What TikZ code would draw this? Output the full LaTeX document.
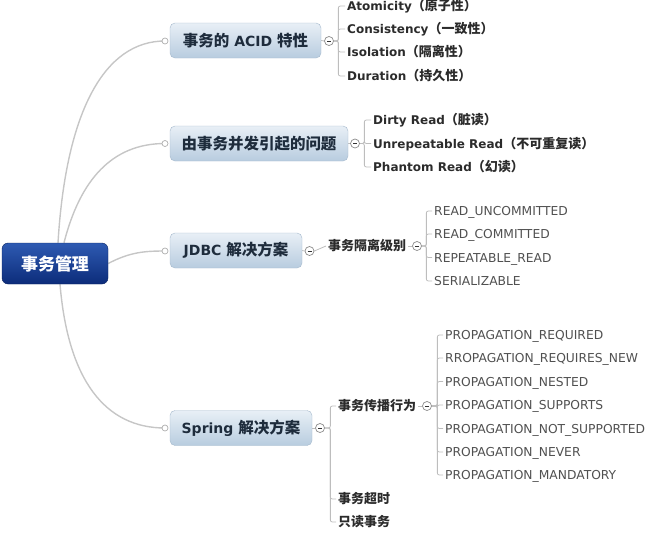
\documentclass[tikz,border=0pt]{standalone}
\usepackage{fontspec}
\setmainfont{DejaVu Sans}
\newfontfamily\cjk{Noto Sans CJK SC}
\newcommand\zhL[1]{{\cjk\fontsize{13}{15}\selectfont #1}}
\newcommand\zhB[1]{{\cjk\fontsize{15.5}{18}\selectfont #1}}
\definecolor{linegray}{HTML}{C6C6C6}
\definecolor{btop}{HTML}{E8EFF6}
\definecolor{bbot}{HTML}{B8CCDF}
\definecolor{bborder}{HTML}{A5B9CC}
\definecolor{roottop}{HTML}{2E5AB2}
\definecolor{rootbot}{HTML}{0C2C7A}
\definecolor{rootborder}{HTML}{0A2360}
\definecolor{btext}{HTML}{1E2C3C}
\definecolor{leafdark}{HTML}{2B2B2B}
\definecolor{leafgray}{HTML}{505050}
\definecolor{brkgray}{HTML}{BDBDBD}
\definecolor{toggray}{HTML}{8C8C8C}
\pgfdeclarelayer{bg}
\pgfsetlayers{bg,main}
\tikzset{
 conn/.style={draw=linegray, line width=1.4pt},
 rootbox/.style={draw=rootborder, rounded corners=6pt, top color=roottop, bottom color=rootbot, minimum width=106pt, minimum height=41pt, text=white, font=\cjk\bfseries\fontsize{17}{20}\selectfont, inner sep=0},
 branch/.style={draw=bborder, rounded corners=5pt, top color=btop, bottom color=bbot, minimum height=35pt, text=btext, font=\bfseries\fontsize{14}{17}\selectfont, inner sep=0},
 leafb/.style={anchor=west, inner xsep=2pt, inner ysep=0pt, text height=9.5pt, text depth=0.5pt, text=leafdark, font=\bfseries\fontsize{12}{14}\selectfont},
 leafr/.style={anchor=west, inner xsep=2pt, inner ysep=0pt, text height=9.5pt, text depth=0.5pt, text=leafgray, font=\fontsize{12.3}{14}\selectfont},
 mid/.style={anchor=west, inner xsep=2pt, inner ysep=0pt, text=leafdark, font=\cjk\bfseries\fontsize{13}{15}\selectfont},
 dot/.style={circle, draw=toggray!70, fill=white, inner sep=0, minimum size=6pt, line width=0.7pt},
 tog/.style={circle, draw=toggray, fill=white, inner sep=0, minimum size=9pt, line width=0.7pt,
   path picture={\draw[line width=1pt, black!80] ([xshift=-2pt]path picture bounding box.center) -- ([xshift=2pt]path picture bounding box.center);}},
 brk/.style={draw=brkgray, line width=0.8pt, rounded corners=2pt},
 tick/.style={draw=brkgray, line width=0.8pt},
}
\begin{document}
\begin{tikzpicture}[x=1pt,y=-1pt]
\useasboundingbox (0,0) rectangle (657,533);

% root
\node[rootbox] (root) at (55,263.5) {事务管理};

% branches
\node[branch, minimum width=151pt] (b1) at (245.5,40.5) {\zhB{事务的} ACID \zhB{特性}};
\node[branch, minimum width=178pt] (b2) at (259,143.5) {\zhB{由事务并发引起的问题}};
\node[branch, minimum width=132pt] (b3) at (236,250.5) {JDBC \zhB{解决方案}};
\node[branch, minimum width=142pt] (b4) at (241,428) {Spring \zhB{解决方案}};

\node[dot] (d1) at (165,41) {};
\node[dot] (d2) at (165,143.5) {};
\node[dot] (d3) at (165,251) {};
\node[dot] (d4) at (165,428) {};

\node[tog] (t1) at (329,41) {};
\node[tog] (t2) at (355,143.5) {};
\node[tog] (t3) at (309.5,251) {};
\node[tog] (t4) at (320,428) {};

% ACID leaves
\node[leafb] (a1) at (345,6) {Atomicity\zhL{（原子性）}};
\node[leafb] (a2) at (345,29) {Consistency\zhL{（一致性）}};
\node[leafb] (a3) at (345,52) {Isolation\zhL{（隔离性）}};
\node[leafb] (a4) at (345,76) {Duration\zhL{（持久性）}};

% problems
\node[leafb] (p1) at (371,120) {Dirty Read\zhL{（脏读）}};
\node[leafb] (p2) at (371,143.5) {Unrepeatable Read\zhL{（不可重复读）}};
\node[leafb] (p3) at (371,167) {Phantom Read\zhL{（幻读）}};

% JDBC
\node[mid] (m1) at (326,246) {事务隔离级别};
\node[tog] (t5) at (417,246) {};
\node[leafr] (i1) at (432,211) {READ\_UNCOMMITTED};
\node[leafr] (i2) at (432,234) {READ\_COMMITTED};
\node[leafr] (i3) at (432,257.5) {REPEATABLE\_READ};
\node[leafr] (i4) at (432,281) {SERIALIZABLE};

% Spring
\node[mid] (s1) at (336,406) {事务传播行为};
\node[mid] (s2) at (336,499) {事务超时};
\node[mid] (s3) at (336,522) {只读事务};
\node[tog] (t6) at (427,406) {};
\node[leafr] (g1) at (443,335) {PROPAGATION\_REQUIRED};
\node[leafr] (g2) at (443,358) {RROPAGATION\_REQUIRES\_NEW};
\node[leafr] (g3) at (443,381.5) {PROPAGATION\_NESTED};
\node[leafr] (g4) at (443,405) {PROPAGATION\_SUPPORTS};
\node[leafr] (g5) at (443,428.5) {PROPAGATION\_NOT\_SUPPORTED};
\node[leafr] (g6) at (443,452) {PROPAGATION\_NEVER};
\node[leafr] (g7) at (443,475) {PROPAGATION\_MANDATORY};

\begin{pgfonlayer}{bg}
% root connectors
\draw[conn] ([xshift=3pt]root.north) .. controls (66,110) and (105,41) .. (d1.center);
\draw[conn] ([xshift=9pt]root.north) .. controls (80,180) and (112,143.5) .. (d2.center);
\draw[conn] (root.east) .. controls (130,252) and (145,251) .. (d3.center);
\draw[conn] ([xshift=5pt]root.south) .. controls (68,380) and (105,428) .. (d4.center);
% box to toggles
\draw[tick] (b1.east) -- (t1.west);
\draw[tick] (b2.east) -- (t2.west);
\draw[tick] (b3.east) -- (t3.west);
\draw[tick] (b4.east) -- (t4.west);
\draw[tick] (t3.east) -- (m1.west);
\draw[tick] (m1.east) -- (t5.west);
\draw[tick] (s1.east) -- (t6.west);
% brackets
\foreach \n in {a1,a2,a3,a4} \draw[brk] (t1.east) -- ++(4.5,0) |- (\n.west);
\foreach \n in {p1,p2,p3} \draw[brk] (t2.east) -- ++(4.5,0) |- (\n.west);
\foreach \n in {i1,i2,i3,i4} \draw[brk] (t5.east) -- ++(4.5,0) |- (\n.west);
\foreach \n in {s1,s2,s3} \draw[brk] (t4.east) -- ++(5.5,0) |- (\n.west);
\foreach \n in {g1,g2,g3,g4,g5,g6,g7} \draw[brk] (t6.east) -- ++(5.5,0) |- (\n.west);
\end{pgfonlayer}
\end{tikzpicture}
\end{document}
